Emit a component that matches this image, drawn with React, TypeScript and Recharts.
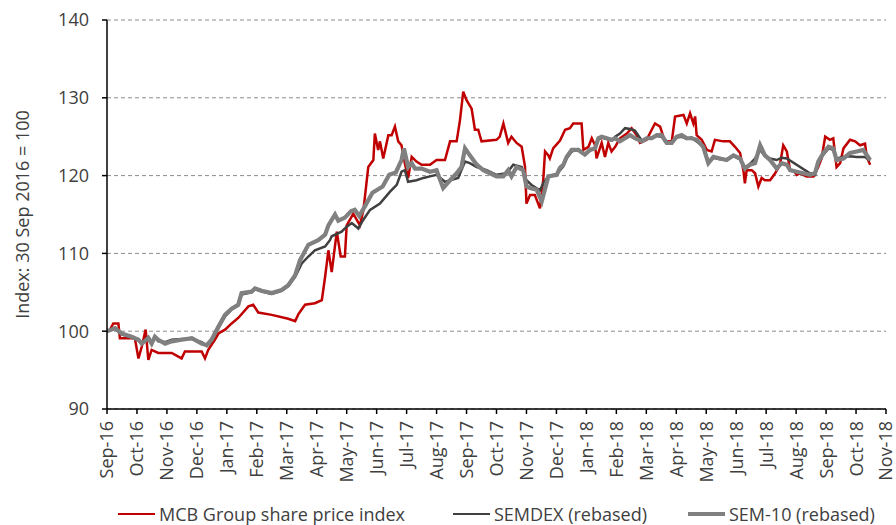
import React from 'react';
import { LineChart, Line, XAxis, YAxis, CartesianGrid, Legend } from 'recharts';

// Month tick labels (x = months since 30 Sep 2016)
const monthLabels = [
  'Sep-16', 'Oct-16', 'Nov-16', 'Dec-16', 'Jan-17', 'Feb-17', 'Mar-17', 'Apr-17', 'May-17',
  'Jun-17', 'Jul-17', 'Aug-17', 'Sep-17', 'Oct-17', 'Nov-17', 'Dec-17', 'Jan-18', 'Feb-18',
  'Mar-18', 'Apr-18', 'May-18', 'Jun-18', 'Jul-18', 'Aug-18', 'Sep-18', 'Oct-18', 'Nov-18',
];
const monthTicks = monthLabels.map((_, i) => i);
const yTicks = [90, 100, 110, 120, 130, 140];

// MCB Group share price index
const mcbT = [
  0, 0.1, 0.21, 0.38, 0.43, 0.93, 1.05, 1.16, 1.29, 1.38, 1.49, 1.71, 2.16, 2.49, 2.6, 3.16, 3.27, 3.38,
  3.6, 3.72, 3.94, 4.16, 4.38, 4.72, 4.88, 5.05, 5.5, 6.05, 6.28, 6.39, 6.61, 6.94, 7.17, 7.28, 7.39, 7.5,
  7.67, 7.8, 7.94, 8.0, 8.22, 8.44, 8.56, 8.72, 8.89, 8.94, 9.05, 9.11, 9.22, 9.39, 9.5, 9.61, 9.72, 9.83,
  9.94, 10.05, 10.17, 10.33, 10.5, 10.78, 11.0, 11.28, 11.45, 11.67, 11.78, 11.89, 12.0, 12.17, 12.28,
  12.39, 12.5, 13.0, 13.11, 13.23, 13.39, 13.5, 13.67, 13.84, 13.95, 14.0, 14.12, 14.28, 14.39, 14.45,
  14.56, 14.62, 14.73, 14.78, 14.89, 15.12, 15.29, 15.45, 15.56, 15.84, 15.9, 16.07, 16.18, 16.29, 16.34,
  16.51, 16.62, 16.73, 16.84, 16.96, 17.12, 17.35, 17.51, 17.68, 17.79, 18.01, 18.18, 18.29, 18.46, 18.62,
  18.85, 18.96, 19.24, 19.35, 19.46, 19.57, 19.63, 19.68, 19.85, 20.02, 20.18, 20.29, 20.57, 20.79, 20.96,
  21.13, 21.24, 21.29, 21.35, 21.52, 21.63, 21.74, 21.85, 21.96, 22.13, 22.3, 22.46, 22.57, 22.69, 22.8,
  22.91, 23.02, 23.13, 23.35, 23.58, 23.74, 23.85, 23.97, 24.13, 24.24, 24.35, 24.47, 24.58, 24.8, 24.97,
  25.13, 25.3, 25.36, 25.47,
];
const mcbV = [
  100.0, 100.2, 101.0, 101.0, 99.1, 99.1, 96.5, 98.0, 100.2, 96.3, 97.6, 97.2, 97.2, 96.5, 97.4, 97.4, 96.5, 97.6,
  98.9, 99.7, 100.2, 101.0, 101.7, 103.2, 103.4, 102.4, 102.1, 101.6, 101.3, 102.2, 103.4, 103.6, 104.0, 107.0, 110.4, 107.6,
  112.8, 109.6, 109.6, 113.6, 115.1, 113.6, 115.6, 121.1, 122.0, 125.4, 123.3, 124.4, 122.2, 125.2, 125.2, 126.3, 124.4, 123.9,
  121.6, 119.7, 122.4, 121.8, 121.4, 121.4, 122.0, 122.0, 124.4, 124.4, 127.1, 130.8, 129.7, 128.6, 125.9,
  125.9, 124.4, 124.6, 125.0, 126.7, 124.2, 125.0, 124.2, 123.7, 121.2, 116.4, 117.5, 117.5, 116.4, 115.8,
  119.4, 123.1, 122.6, 122.2, 123.5, 124.5, 125.9, 126.1, 126.7, 126.7, 123.3, 123.7, 124.8, 123.9, 122.2,
  124.2, 122.4, 124.2, 123.1, 123.7, 124.8, 125.4, 126.1, 125.2, 124.2, 124.6, 125.9, 126.7, 126.3, 124.4,
  124.4, 127.6, 127.8, 126.7, 128.0, 126.7, 127.6, 125.2, 124.6, 123.3, 123.1, 124.6, 124.4, 124.4, 123.7,
  122.9, 120.7, 119.0, 120.7, 120.7, 120.3, 118.6, 119.7, 119.4, 119.4, 120.3, 121.4, 123.9, 123.1, 120.7,
  120.7, 120.1, 120.3, 119.9, 119.9, 121.1, 122.2, 125.0, 124.6, 124.8, 121.1, 121.6, 123.5, 124.6, 124.4,
  123.9, 124.1, 122.4, 121.4,
];

// SEMDEX (rebased)
const semdexT = [
  0, 0.27, 0.49, 0.82, 1.05, 1.16, 1.38, 1.49, 1.6, 1.71, 1.94, 2.16, 2.49, 2.83, 3.16, 3.33, 3.49, 3.72,
  3.94, 4.16, 4.38, 4.49, 4.83, 4.94, 5.16, 5.5, 5.83, 6.05, 6.28, 6.5, 6.72, 6.94, 7.28, 7.44, 7.5, 7.83,
  7.99, 8.17, 8.39, 8.55, 8.78, 9.11, 9.44, 9.67, 9.83, 9.94, 10.05, 10.33, 10.56, 10.78, 11.0, 11.28, 11.45,
  11.72, 11.95, 12.11, 12.34, 12.67, 13.0, 13.34, 13.56, 13.84, 14.0, 14.17, 14.45, 14.56, 14.73, 15.01,
  15.23, 15.34, 15.51, 15.73, 15.95, 16.12, 16.29, 16.4, 16.51, 16.68, 16.84, 16.96, 17.12, 17.29, 17.46,
  17.62, 17.85, 18.01, 18.18, 18.35, 18.51, 18.68, 18.85, 19.01, 19.18, 19.35, 19.51, 19.68, 19.9, 20.07,
  20.24, 20.46, 20.68, 20.91, 21.13, 21.29, 21.46, 21.63, 21.8, 21.96, 22.13, 22.35, 22.52, 22.69, 23.46,
  23.63, 23.74, 23.91, 24.08, 24.24, 24.35, 24.58, 24.8, 25.02, 25.3, 25.47,
];
const semdexV = [
  100.0, 100.3, 99.6, 99.2, 98.8, 98.5, 99.3, 98.6, 99.2, 98.7, 98.6, 98.9, 99.0, 99.0, 98.6, 98.1, 98.7, 100.4,
  101.9, 102.8, 103.3, 104.7, 105.0, 105.4, 105.1, 104.8, 105.2, 105.8, 107.0, 108.7, 109.6, 110.4, 110.9, 111.7, 112.2, 112.8,
  113.4, 113.9, 113.2, 114.3, 115.6, 116.4, 117.9, 118.8, 120.5, 120.7, 119.2, 119.4, 119.7, 119.9, 120.1, 119.2, 119.4,
  119.7, 121.8, 121.6, 121.1, 120.7, 120.1, 120.3, 121.4, 121.1, 119.4, 118.8, 118.1, 119.0, 119.9, 120.2,
  121.2, 122.2, 123.1, 123.4, 122.8, 123.2, 123.6, 124.6, 124.9, 124.7, 124.5, 125.0, 125.4, 126.1, 126.0,
  125.8, 124.5, 124.7, 124.9, 125.1, 125.0, 124.3, 124.3, 124.9, 125.0, 124.7, 124.9, 124.4, 123.8, 121.8,
  122.3, 122.1, 122.0, 122.5, 122.1, 121.0, 121.5, 122.2, 123.3, 122.5, 122.2, 122.0, 122.3, 122.2, 120.3,
  120.1, 121.6, 122.7, 123.5, 123.3, 122.2, 122.4, 122.5, 122.4, 122.4, 121.9,
];

// SEM-10 (rebased)
const sem10T = [
  0, 0.27, 0.49, 0.82, 1.05, 1.16, 1.38, 1.49, 1.6, 1.71, 1.94, 2.16, 2.49, 2.83, 3.16, 3.33, 3.49, 3.72,
  3.94, 4.16, 4.38, 4.49, 4.83, 4.94, 5.16, 5.5, 5.83, 6.05, 6.28, 6.44, 6.72, 7.05, 7.28, 7.39, 7.61, 7.72,
  7.94, 8.14, 8.27, 8.42, 8.63, 8.86, 9.2, 9.42, 9.64, 9.83, 9.91, 10.05, 10.17, 10.28, 10.5, 10.78, 11.0,
  11.22, 11.45, 11.67, 11.83, 11.95, 12.11, 12.34, 12.56, 12.78, 13.0, 13.23, 13.39, 13.5, 13.67, 13.89,
  14.0, 14.12, 14.34, 14.51, 14.73, 15.01, 15.12, 15.23, 15.34, 15.51, 15.73, 15.95, 16.12, 16.29, 16.4,
  16.51, 16.68, 16.84, 16.96, 17.12, 17.29, 17.46, 17.62, 17.85, 18.01, 18.18, 18.35, 18.51, 18.68, 18.85,
  19.01, 19.18, 19.35, 19.51, 19.68, 19.9, 20.07, 20.24, 20.46, 20.68, 20.91, 21.13, 21.29, 21.46, 21.63,
  21.8, 21.96, 22.13, 22.35, 22.52, 22.69, 22.8, 23.02, 23.24, 23.46, 23.63, 23.74, 23.91, 24.08, 24.24,
  24.35, 24.58, 24.8, 25.02, 25.24, 25.47,
];
const sem10V = [
  100.0, 100.4, 99.7, 99.3, 98.9, 98.4, 99.1, 98.4, 99.3, 98.9, 98.4, 98.7, 98.9, 99.1, 98.4, 98.2, 98.9, 100.6,
  102.1, 102.9, 103.4, 104.9, 105.1, 105.5, 105.2, 104.9, 105.3, 105.9, 107.2, 109.1, 111.1, 111.7, 112.4, 113.6, 115.0, 114.2,
  114.6, 115.4, 115.6, 114.8, 116.2, 117.8, 118.6, 120.1, 120.4, 122.0, 123.5, 121.1, 121.6, 120.9, 120.9, 120.5, 120.7,
  118.4, 119.4, 120.3, 121.1, 123.5, 122.6, 121.4, 120.7, 120.3, 119.9, 119.9, 120.7, 119.9, 121.1, 120.7,
  118.6, 118.4, 118.2, 116.7, 119.9, 120.1, 121.0, 121.4, 122.4, 123.3, 123.3, 122.7, 123.3, 123.5, 124.8,
  125.0, 124.8, 124.6, 124.8, 124.4, 124.8, 125.2, 124.8, 124.4, 124.8, 124.8, 125.2, 125.2, 124.2, 124.2,
  125.0, 125.2, 124.8, 124.8, 124.6, 123.7, 121.6, 122.4, 122.2, 122.0, 122.6, 122.2, 120.9, 121.4, 121.6,
  123.9, 122.6, 122.0, 120.9, 121.6, 121.4, 120.7, 120.5, 120.3, 120.1, 120.3, 121.8, 122.9, 123.7, 123.5,
  122.0, 122.2, 122.9, 123.1, 123.3, 122.0,
];

const toRows = (t: number[], v: number[]) => t.map((x, i) => ({ t: x, v: v[i] }));
const mcbRows = toRows(mcbT, mcbV);
const semdexRows = toRows(semdexT, semdexV);
const sem10Rows = toRows(sem10T, sem10V);

const FONT = '"Open Sans", "Liberation Sans", Arial, sans-serif';
const TEXT = '#404040';
const FS = 18;

const series = [
  { name: 'MCB Group share price index', color: '#C00000', width: 2.5, left: 118 },
  { name: 'SEMDEX (rebased)', color: '#404040', width: 2.5, left: 453 },
  { name: 'SEM-10 (rebased)', color: '#808080', width: 4, left: 688 },
];

function XTick(props: any) {
  const { x, y, payload } = props;
  return (
    <text
      transform={`translate(${x},${y}) rotate(-90)`}
      textAnchor="end"
      dy="0.36em"
      fill={TEXT}
      fontSize={FS}
      fontFamily={FONT}
    >
      {monthLabels[payload.value]}
    </text>
  );
}

function YLabel(props: any) {
  const vb = props.viewBox || { y: 20, height: 389 };
  const cy = vb.y + vb.height / 2;
  return (
    <text
      transform={`translate(23,${cy}) rotate(-90)`}
      textAnchor="middle"
      dy="0.36em"
      fill={TEXT}
      fontSize={FS}
      fontFamily={FONT}
    >
      Index: 30 Sep 2016 = 100
    </text>
  );
}

function LegendContent() {
  return (
    <div style={{ position: 'relative', width: 896, height: 22, fontFamily: FONT, fontSize: FS, color: TEXT }}>
      {series.map((s) => (
        <div
          key={s.name}
          style={{ position: 'absolute', left: s.left, top: 0, height: 22, display: 'flex', alignItems: 'center', whiteSpace: 'nowrap' }}
        >
          <span style={{ display: 'inline-block', width: 37, height: s.width, background: s.color, marginRight: 4 }} />
          <span>{s.name}</span>
        </div>
      ))}
    </div>
  );
}

export default function App() {
  return (
    <div style={{ position: 'absolute', left: 0, top: 0, width: 896, height: 525, background: '#fff', fontFamily: FONT }}>
      <LineChart width={896} height={525} margin={{ top: 20, right: 10, bottom: 0, left: 0 }}>
        <CartesianGrid vertical={false} horizontal stroke="#8c8c8c" strokeDasharray="4 3" strokeWidth={1} />
        <XAxis
          type="number"
          dataKey="t"
          domain={[0, 26]}
          ticks={monthTicks}
          interval={0}
          allowDataOverflow
          height={94}
          axisLine={{ stroke: '#000', strokeWidth: 1.5 }}
          tickLine={{ stroke: '#000', strokeWidth: 1.5 }}
          tickSize={5}
          tickMargin={7}
          tick={<XTick />}
        />
        <YAxis
          type="number"
          domain={[90, 140]}
          ticks={yTicks}
          interval={0}
          width={107}
          axisLine={{ stroke: '#000', strokeWidth: 1.5 }}
          tickLine={{ stroke: '#000', strokeWidth: 1.5 }}
          tickSize={5}
          tickMargin={13}
          tick={{ fill: TEXT, fontSize: FS, fontFamily: FONT }}
          label={<YLabel />}
        />
        <Legend verticalAlign="bottom" align="left" content={<LegendContent />} wrapperStyle={{ left: 0, width: 896, height: 22 }} />
        <Line data={mcbRows} dataKey="v" name={series[0].name} stroke={series[0].color} strokeWidth={2.5} dot={false} type="linear" isAnimationActive={false} />
        <Line data={semdexRows} dataKey="v" name={series[1].name} stroke={series[1].color} strokeWidth={2.5} dot={false} type="linear" isAnimationActive={false} />
        <Line data={sem10Rows} dataKey="v" name={series[2].name} stroke={series[2].color} strokeWidth={4.2} dot={false} type="linear" isAnimationActive={false} />
      </LineChart>
    </div>
  );
}
